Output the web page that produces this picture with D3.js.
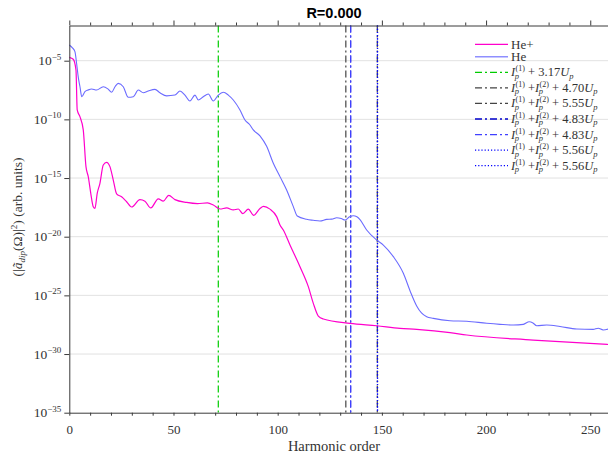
<!DOCTYPE html>
<html><head><meta charset="utf-8">
<script src="https://cdn.jsdelivr.net/npm/d3@7"></script>
<style>body{margin:0;background:#fff}svg{display:block}</style>
</head><body>
<svg id="c" width="608" height="455"></svg>
<script>
// ---- data (log10 of |a_dip|^2) ----
const heHarm = [0,1.5,2.7,3.5,4.3,5.1,6.0,7.5,9.0,10.7,13.1,16.3,18.5,20.3,22.0,23.5,25.9,28.3,30.7,33.1,35.5,37.9,41.1,43.5,46.7,50.7,53.1,55.5,57.9,60.3,61.9,64.3,66.7,69.1,71.5,73.9,76.3,78.7,81.9,84.3,86.7,88.3,91.5,94.7,97.9,101.1,104.3,107.5,109.4,113.9,117,120.3,123.5,126,128.3,130.5,132.3,134.5,136.3,138,139.5,142.7,147.5,150.7,155.5,160.3,163.5,166.7,169,171.5,174.7,182.7,190.7,200.3,206.7,213.1,217.9,220.7,222.5,224.3,229.1,235.5,243.5,251.4,253.8,256.2,260];
const heLog10 = [-3.66,-3.9,-4.23,-5.22,-6.4,-7.2,-8.07,-7.64,-7.5,-7.41,-7.5,-7.22,-7.4,-7.69,-7.2,-6.93,-7.22,-8.12,-8.07,-7.5,-7.73,-7.58,-7.44,-7.73,-8.0,-7.93,-7.58,-7.93,-8.43,-7.93,-8.35,-8.07,-7.84,-8.43,-7.93,-7.69,-7.93,-8.35,-9.2,-10.05,-10.48,-10.9,-11.4,-12.3,-13.74,-14.88,-16.02,-17.44,-18.24,-18.52,-18.6,-18.66,-18.52,-18.5,-18.38,-18.45,-18.58,-18.3,-18.21,-18.3,-18.55,-19.43,-20.28,-20.71,-21.7,-23.12,-24.6,-25.9,-26.5,-26.82,-26.96,-27.16,-27.2,-27.38,-27.47,-27.53,-27.47,-27.25,-27.35,-27.59,-27.53,-27.65,-27.87,-27.9,-27.8,-27.95,-27.8];
const hepHarm = [0,1.9,3.2,3.8,5.1,6.7,8.0,9.1,10.3,11.5,12.3,13.4,14.7,16.3,17.9,19.5,21.1,22.7,25.1,27.5,29.9,33.9,36.3,39.1,42.7,45.1,47.7,50.7,56.3,61.5,66.3,69.1,72.3,75.5,78.7,81.1,83.3,85.9,88.5,91.5,93.2,96.3,99.5,101.1,102.7,105.9,110.7,114.7,117.1,119.5,121.9,134.7,147.5,158.7,166.7,182.7,190.7,222.6,260];
const hepLog10 = [-4.71,-4.88,-5.79,-9.2,-9.77,-10.9,-14.03,-14.88,-16.3,-17.44,-17.58,-16.3,-15.45,-13.89,-13.66,-14.03,-15.17,-16.35,-16.6,-17.02,-17.47,-16.84,-16.97,-17.55,-16.77,-16.97,-16.48,-16.84,-17.08,-17.18,-17.12,-17.3,-17.64,-17.55,-17.72,-17.64,-18.03,-17.65,-18.18,-17.6,-17.42,-17.65,-18.29,-19.0,-19.43,-20.7,-22.56,-24.26,-25.68,-26.76,-27.01,-27.38,-27.59,-27.81,-27.9,-28.18,-28.38,-28.81,-29.2];

// cutoff lines
const cutoffX     = [71.5, 132.7, 147.8, 135.0, 135.0, 147.9, 147.9];
const cutoffCoef  = ["3.17","4.70","5.55","4.83","4.83","5.56","5.56"];
const cutoffTwoIp = [false, true, true, true, true, true, true];
const cutoffColor = ["#00cc00","#444444","#444444","#0000cc","#4040ff","#0000ff","#0000ff"];
const cutoffDash  = ["7,3,2,3","7,3,2,3","7,3,2,3","7,3,2,3","7,3,2,3","1.2,2","1.2,2"];

const xTicks = d3.range(0, 261, 10);
const xLabelTicks = [0,50,100,150,200,250];
const yTickExps = [-5,-10,-15,-20,-25,-30,-35];

// ---- drawing ----
const svg = d3.select("#c");
const serif = "'Liberation Serif','DejaVu Serif',serif";
const x = d3.scaleLinear().domain([0,260]).range([69.3, 611.1]);
const y = d3.scaleLog().domain([1e-35, 1e-2]).range([412.7, 25.5]);

// grid
svg.append("g").selectAll("line").data(yTickExps.filter(e=>e>-35)).join("line")
  .attr("x1", x(0)).attr("x2", 608)
  .attr("y1", e=>y(Math.pow(10,e))).attr("y2", e=>y(Math.pow(10,e)))
  .attr("stroke","#e2e2e2").attr("stroke-width",1);

// cutoff lines
svg.append("g").selectAll("line").data(cutoffX.map((v,i)=>i)).join("line")
  .attr("x1", i=>x(cutoffX[i])).attr("x2", i=>x(cutoffX[i]))
  .attr("y1", y(1e-2)).attr("y2", y(1e-35))
  .attr("stroke", i=>cutoffColor[i]).attr("stroke-width",1.2)
  .attr("stroke-dasharray", i=>cutoffDash[i]);

// curves
const line = d3.line().x(d=>x(d[0])).y(d=>y(Math.pow(10,d[1]))).curve(d3.curveMonotoneX);
svg.append("path").datum(heHarm.map((h,i)=>[h,heLog10[i]]))
  .attr("d", line).attr("fill","none").attr("stroke","#6b6bff").attr("stroke-width",1.1);
svg.append("path").datum(hepHarm.map((h,i)=>[h,hepLog10[i]]))
  .attr("d", line).attr("fill","none").attr("stroke","#ff00cc").attr("stroke-width",1.2);

// axes
const axCol = "#3a3a3a";
const gB = svg.append("g").attr("transform",`translate(0,${y(1e-35)})`)
  .call(d3.axisBottom(x).tickValues(xTicks).tickSize(3).tickSizeOuter(0)
    .tickFormat(d=> xLabelTicks.includes(d) ? d : ""));
gB.selectAll("text").attr("font-family",serif).attr("font-size",13).attr("fill","#333").attr("dy","1.15em");
svg.append("g").attr("transform",`translate(0,${y(1e-2)})`)
  .call(d3.axisTop(x).tickValues(xTicks.filter(d=>d%50)).tickSize(3).tickSizeOuter(0).tickFormat(""));
svg.append("g").attr("transform",`translate(0,${y(1e-2)})`)
  .call(d3.axisTop(x).tickValues(xLabelTicks).tickSize(5).tickSizeOuter(0).tickFormat(""))
  .select(".domain").remove();
const gL = svg.append("g").attr("transform",`translate(${x(0)},0)`)
  .call(d3.axisLeft(y).tickValues(yTickExps.map(e=>Math.pow(10,e))).tickSize(5).tickSizeOuter(0).tickFormat(""));
gL.selectAll(".tick").each(function(d){
  const e = Math.round(Math.log10(d));
  const t = d3.select(this).append("text").attr("x",-8).attr("y",4)
    .attr("text-anchor","end").attr("fill","#333").attr("font-family",serif).attr("font-size",13.5);
  t.append("tspan").text("10");
  t.append("tspan").attr("dy",-5.5).attr("font-size",9).text("\u2212"+Math.abs(e));
});
svg.selectAll(".domain, .tick line").attr("stroke",axCol);

// axis titles
svg.append("text").attr("x", 334).attr("y", 451).attr("text-anchor","middle")
  .attr("font-family",serif).attr("font-size",14.5).attr("fill","#333").text("Harmonic order");
const yl = svg.append("text").attr("transform","translate(22,217) rotate(-90)")
  .attr("text-anchor","middle").attr("font-family",serif).attr("font-size",13.5).attr("fill","#333");
yl.append("tspan").text("(|");
yl.append("tspan").attr("font-style","italic").text("ã");
yl.append("tspan").attr("font-style","italic").attr("font-size",9).attr("dy",3).text("dip");
yl.append("tspan").attr("dy",-3).text("(Ω)|");
yl.append("tspan").attr("font-size",9).attr("dy",-5).text("2");
yl.append("tspan").attr("dy",5).text(") (arb. units)");

svg.append("text").attr("x",334).attr("y",18).attr("text-anchor","middle")
  .attr("font-family","Liberation Sans, Arial, sans-serif").attr("font-weight","bold")
  .attr("font-size",14.5).attr("fill","#000").text("R=0.000");

// legend
const lg = svg.append("g");
const lx0 = 475, lx1 = 508, tx = 511;
function entry(yy, color, dash, width){
  lg.append("line").attr("x1",lx0).attr("x2",lx1).attr("y1",yy).attr("y2",yy)
    .attr("stroke",color).attr("stroke-width",width).attr("stroke-dasharray",dash);
}
entry(44.3,"#ff00cc",null,1.3);
lg.append("text").attr("x",tx).attr("y",48.5).attr("font-family",serif).attr("font-size",13).attr("fill","#333").text("He+");
entry(56.7,"#8f8fff",null,1.6);
lg.append("text").attr("x",tx).attr("y",61).attr("font-family",serif).attr("font-size",13).attr("fill","#333").text("He");

// measure helper
const meas = svg.append("text").attr("font-family",serif).attr("opacity",0);
function widthOf(txt, size, it){
  meas.attr("font-size",size).attr("font-style",it?"italic":"normal").text(txt);
  return meas.node().getComputedTextLength();
}
const pW = widthOf("p", 8.5, true);
meas.remove();

cutoffX.forEach((v,i)=>{
  const yy = 72.3 + i*15.56;
  entry(yy, cutoffColor[i], cutoffDash[i], 1.3);
  const t = lg.append("text").attr("x",tx).attr("y",yy+4).attr("font-family",serif)
    .attr("font-size",12.5).attr("fill","#333");
  function ip(n){
    t.append("tspan").attr("font-style","italic").text("I");
    t.append("tspan").attr("font-style","italic").attr("font-size",8.5).attr("dy",2.5).attr("dx",-0.5).text("p");
    t.append("tspan").attr("font-size",8).attr("dy",-7.5).attr("dx",-pW+0.8).text("("+n+")");
    t.append("tspan").attr("dy",5).attr("dx",3.2).text("+");
  }
  ip(1);
  if (cutoffTwoIp[i]) ip(2);
  t.append("tspan").attr("dx",3.2).text(cutoffCoef[i]);
  t.append("tspan").attr("font-style","italic").text("U");
  t.append("tspan").attr("font-style","italic").attr("font-size",8.5).attr("dy",2.5).text("p");
});
</script>
</body></html>
